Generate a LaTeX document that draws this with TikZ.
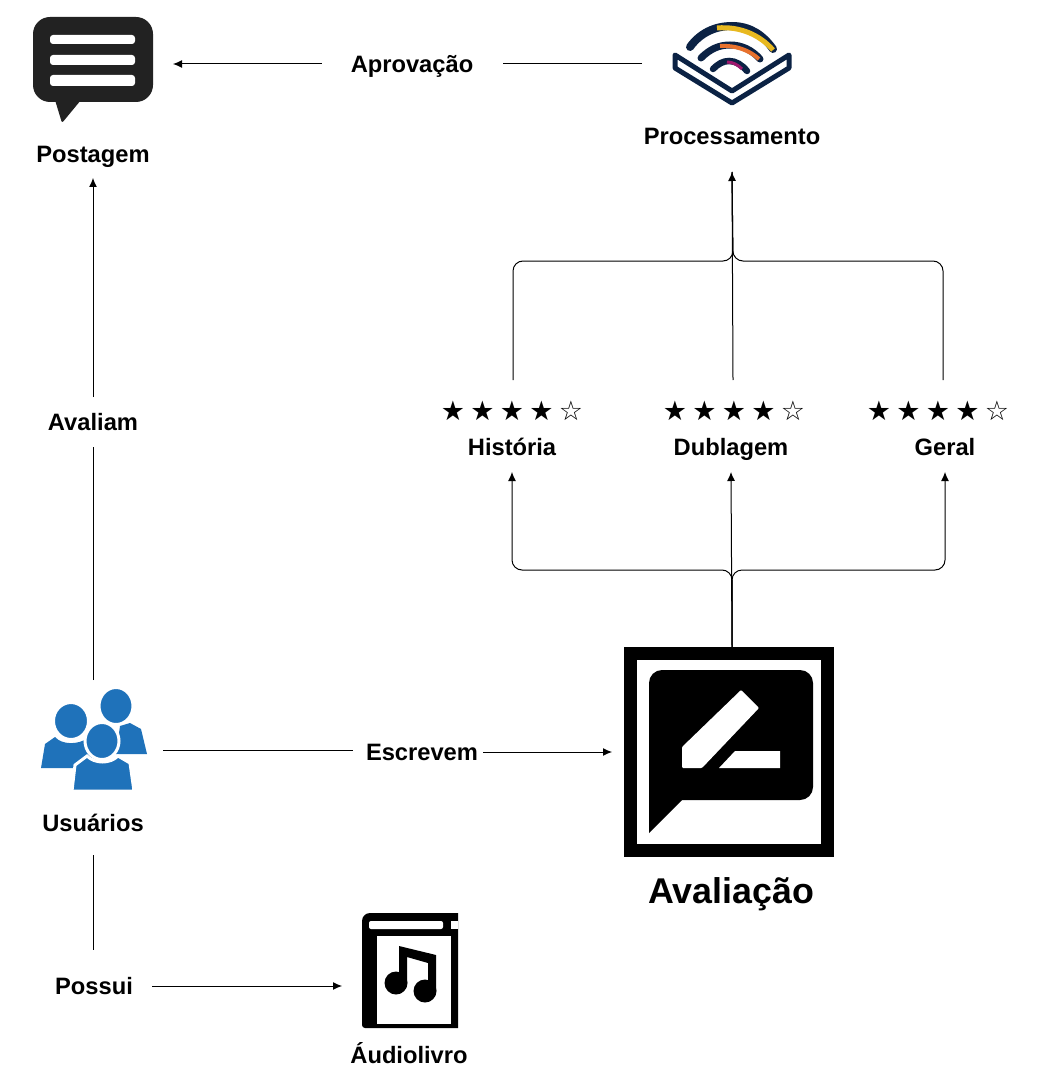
\documentclass[tikz,border=0pt]{standalone}
\usepackage{fontspec}
\setmainfont{Liberation Sans}
\newfontfamily\starfont{DejaVu Sans}
\usetikzlibrary{arrows.meta}
\usetikzlibrary{positioning}
\definecolor{userblue}{HTML}{1F72BA}
\definecolor{navy}{HTML}{0B2244}
\definecolor{bubblegray}{HTML}{222222}
\definecolor{arcgold}{HTML}{E8B920}
\definecolor{arcorange}{HTML}{E8712C}
\definecolor{arcpurple}{HTML}{A0176E}
\newcommand{\ratingstars}{★\hspace{5.3pt}★\hspace{5.3pt}★\hspace{5.3pt}★\hspace{5.3pt}☆}
\tikzset{
  lbl/.style={font=\fontsize{23.7}{28}\selectfont\bfseries,inner sep=0,outer sep=0},
  iconbox/.style={inner sep=0,outer sep=0},
  rating/.style={font=\fontsize{27}{30}\selectfont\starfont,inner sep=0,outer sep=0,minimum height=62pt},
  conn/.style={-{Latex[length=9pt,width=8pt]},line width=1pt},
  plain/.style={line width=1pt}
}
\begin{document}
\begin{tikzpicture}[x=1pt,y=-1pt]
\useasboundingbox (0,0) rectangle (1039,1083);
% post icon
\node [iconbox,minimum width=160pt,minimum height=100pt] (posticon) at (93,64) {};
\fill [bubblegray,rounded corners=17pt] (33,17) rectangle (153,102);
\fill [bubblegray,rounded corners=2pt] (55,100) -- (62,123) -- (81,100) -- cycle;
\foreach \ya/\yb in {35/44,55/65,75/86}
  \fill [white,rounded corners=3pt] (50,\ya) rectangle (135,\yb);
\node [lbl,minimum height=42pt] (postagem) at (93,157) {Postagem};
% processing icon
\node [iconbox,minimum width=180pt,minimum height=100pt] (procicon) at (732,64) {};
\draw [navy,line width=5pt,line join=round,fill=white] (675,55) -- (675,68) -- (732,103) -- (789,68) -- (789,55) -- (732,91) -- cycle;
\draw [navy,line width=8pt,line cap=round] (690,47) .. controls (700,33) and (715,26) .. (732,26) .. controls (750,26) and (763,35) .. (773,49);
\draw [navy,line width=7pt,line cap=round] (701,58) .. controls (710,49) and (719,45) .. (730,45) .. controls (742,45) and (752,50) .. (760,59);
\draw [navy,line width=6.5pt,line cap=round] (713,69) .. controls (718,64) and (723,61) .. (729,61) .. controls (736,61) and (742,65) .. (747,71);
\draw [arcgold,line width=5pt] (717,28) .. controls (740,26) and (760,35) .. (773,50);
\draw [arcorange,line width=4pt] (720,46) .. controls (735,45) and (749,50) .. (759,59);
\draw [arcpurple,line width=3pt] (727,62) .. controls (733,62) and (738,65) .. (742,69);
\node [lbl,minimum height=72pt] (processamento) at (732,136) {Processamento};
\node [lbl,minimum width=181pt,minimum height=30pt] (aprovacao) at (412,66) {Aprovação};
% ratings
\node [rating] (starshist) at (512,411) {\ratingstars};
\node [rating] (starsdub) at (734,411) {\ratingstars};
\node [rating] (starsger) at (938,411) {\ratingstars};
\node [lbl,minimum height=50pt] (historia) at (512,447) {História};
\node [lbl,minimum height=46pt] (dublagem) at (731,449) {Dublagem};
\node [lbl,minimum height=50pt] (geral) at (945,447) {Geral};
% review icon
\node [draw,line width=13pt,minimum size=197pt,inner sep=0] (avaliacaoicon) at (729,752) {};
\fill [rounded corners=13pt] (649,670) -- (813,670) -- (813,800) -- (682,800) -- (649,800) -- cycle;
\fill (649,760) -- (682,800) -- (649,833) -- cycle;
\fill [white,rounded corners=1pt] (682,747) -- (741,690) -- (759,708) -- (702,768) -- (682,768) -- cycle;
\fill [white] (735,751) -- (780,751) -- (780,768) -- (719,768) -- cycle;
\node [lbl,font=\fontsize{35.8}{42}\selectfont\bfseries] (avaliacao) at (731,894) {Avaliação};
% users icon
\node [iconbox,minimum size=140pt] (usersicon) at (93,750) {};
\fill [userblue] (120,726) -- (130,723) -- (141,729) -- (147,754) -- (116,754) -- cycle;
\fill [userblue,draw=white,line width=2pt] (116,706) ellipse [x radius=16.5pt,y radius=18pt];
\fill [userblue] (41,768) -- (45,744) -- (55,737) .. controls (62,745) and (78,745) .. (88,738) -- (100,768) -- cycle;
\fill [userblue,draw=white,line width=2pt] (71,721) ellipse [x radius=17pt,y radius=18pt];
\fill [userblue,draw=white,line width=3pt] (72,791) -- (75,765) -- (87,756) .. controls (95,764) and (110,764) .. (118,756) -- (130,763) -- (134,791) -- cycle;
\fill [userblue,draw=white,line width=3pt] (102,741) ellipse [x radius=17pt,y radius=18.5pt];
\node [lbl,minimum height=64pt] (usuarios) at (93,823) {Usuários};
\node [lbl,minimum height=50pt] (avaliam) at (93,422) {Avaliam};
\node [lbl,minimum width=130pt] (escrevem) at (418,752) {\hspace*{8pt}Escrevem};
\node [lbl,minimum width=116pt,minimum height=72pt] (possui) at (94,986) {Possui};
% audiobook icon
\node [iconbox,minimum width=136pt,minimum height=115pt] (bookicon) at (410,986) {};
\fill (458,1028) -- (458,913) [rounded corners=8pt] -- (362,913) [rounded corners=3pt] -- (362,1028) [sharp corners] -- cycle;
\fill [white,rounded corners=2pt] (369,921) rectangle (443,929);
\fill [white] (451,921) rectangle (458,929);
\fill [white] (377,936) rectangle (451,1024);
\fill (399,946) -- (436,955) -- (436,991) -- (428,991) -- (428,963) -- (407,957) -- (407,983) -- (399,983) -- cycle;
\fill (396,983) circle (11.5pt);
\fill (425,991) circle (11.5pt);
\node [lbl,minimum height=40pt] (audiolivro) at (409,1053) {Áudiolivro};
% connectors
\coordinate (joinup) at (733,261);
\coordinate (joinlow) at (732,570);
\draw [plain] (procicon.west) -- (aprovacao.east |- procicon.west);
\draw [conn] (aprovacao.west |- posticon.east) -- (posticon.east);
\draw [plain] (usersicon.north) -- (avaliam.south);
\draw [conn] (avaliam.north) -- (postagem.south);
\draw [plain] (usersicon.east) -- (escrevem.west |- usersicon.east);
\draw [conn,shorten >=12pt] (escrevem.east) -- (avaliacaoicon.west);
\draw [plain] (usuarios.south) -- (usuarios.south |- possui.north);
\draw [conn] (possui.east) -- (bookicon.west);
\draw [conn,rounded corners=10pt] (joinlow |- avaliacaoicon.north) -- (joinlow) -| (historia.south);
\draw [conn] (joinlow |- avaliacaoicon.north) -- (dublagem.south);
\draw [conn,rounded corners=10pt] (joinlow |- avaliacaoicon.north) -- (joinlow) -| (geral.south);
\draw [plain,rounded corners=10pt] ([xshift=1pt]starshist.north) |- (joinup) -- (processamento.south);
\draw [conn] (joinup |- starsdub.north) -- (processamento.south);
\draw [plain,rounded corners=10pt] ([xshift=5pt]starsger.north) |- (joinup) -- (processamento.south);
\end{tikzpicture}
\end{document}
